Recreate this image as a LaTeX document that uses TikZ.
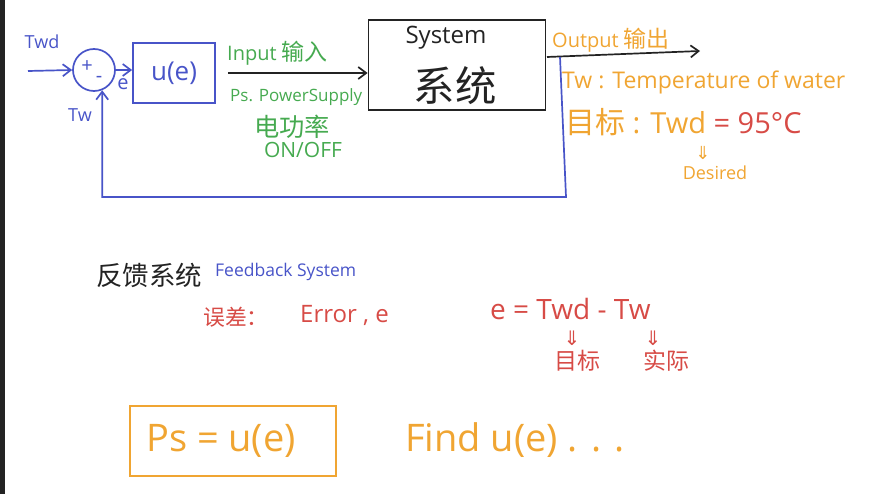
\documentclass[tikz,border=0pt]{standalone}
\usepackage{fontspec}
\setmainfont{Open Sans}
\newfontfamily\cjk[Scale=1.15]{Noto Sans CJK SC}
\newfontfamily\symf{DejaVu Sans}
\usetikzlibrary{positioning,arrows.meta}

\definecolor{inkblue}{RGB}{72,84,200}
\definecolor{inkgreen}{RGB}{70,170,80}
\definecolor{inkorange}{RGB}{240,165,50}
\definecolor{inkred}{RGB}{215,75,70}
\definecolor{inkblack}{RGB}{35,35,35}
\newcommand{\fsz}[1]{\fontsize{#1pt}{#1pt}\selectfont}

\begin{document}
\begin{tikzpicture}[x=1pt, y=-1pt,
  box/.style={draw, line width=1.7pt, inner sep=0pt},
  arr/.style={-{Straight Barb[length=8pt, width=12pt]}, line width=1.7pt},
  txt/.style={inner sep=0pt, anchor=west},
  mid/.style={inner sep=0pt}]
\useasboundingbox (0,0) rectangle (872,494);
\fill[inkblack] (0,0) rectangle (5,494);

% loop
\node[mid, text=inkblue, font=\fsz{18}] (twd) at (42,42) {Twd};
\coordinate (in) at (28,71);
\node[box, draw=inkblue, circle, minimum size=42pt] (sum) at (94,70) {};
\node[mid, text=inkblue, font=\fsz{20}] (plus) at (87,67) {+};
\node[mid, text=inkblue, font=\fsz{20}] (minus) at (99,79) {-};
\node[box, draw=inkblue, minimum width=82pt, minimum height=60pt, text=inkblue, font=\fsz{26}] (ctrl) at (174,73) {u(e)};
\node[mid, text=inkblue, font=\fsz{20}] (e) at (123,84) {e};
\node[mid, text=inkblue, font=\fsz{18}] (tw) at (80,115) {Tw};
\node[box, draw=inkblack, minimum width=177pt, minimum height=90pt] (sys) at (457,65) {};
\node[mid, text=inkblack, font=\fsz{24}] (sysen) at (446,38) {System};
\node[mid, text=inkblack, font=\cjk\fsz{36}] (syszh) at (455,86) {系统};
\coordinate (tap) at (547,57);
\coordinate (out) at (700,51);
\coordinate (fb) at (560,57);
\coordinate (fbcorner) at (566,197);
\draw[arr, inkblue] (in) -- (sum.west);
\draw[arr, inkblue] (sum.east) -- (ctrl.west |- sum.east);
\draw[arr, inkblack, shorten <=12pt] (ctrl.east) -- (sys.west |- ctrl.east);
\draw[arr, inkblack] (tap) -- (out);
\draw[arr, inkblue] (fb) -- (fbcorner) -| (sum.-68);

% input / output notes
\node[txt, text=inkgreen, font=\fsz{20}] (input) at (227,53) {Input {\cjk 输入}};
\node[txt, text=inkgreen, font=\fsz{17}] (ps) at (230,97) {Ps. PowerSupply};
\node[mid, text=inkgreen, font=\cjk\fsz{22}] (power) at (292,127) {电功率};
\node[mid, text=inkgreen, font=\fsz{21}] (onoff) at (303,150) {ON/OFF};
\node[txt, text=inkorange, font=\fsz{20}] (output) at (552,40) {Output {\cjk 输出}};
\node[txt, text=inkorange, font=\fsz{23}] (twdef) at (562,82) {Tw : Temperature of water};
\node[txt, text=inkorange, font=\fsz{29}] (goal) at (565,122) {{\cjk\fsz{26}目标} : Twd {\color{inkred}= 95°C}};
\node[mid, text=inkorange, font=\symf\fsz{18}] (down1) at (703,153) {⇓};
\node[mid, text=inkorange, font=\fsz{18}] (desired) at (715,173) {Desired};

% feedback / error
\node[txt, text=inkblack, font=\cjk\fsz{23}] (fbzh) at (96,275) {反馈系统};
\node[txt, text=inkblue, font=\fsz{17.5}] (fben) at (215,272) {Feedback System};
\node[txt, text=inkred, font=\cjk\fsz{19}] (errzh) at (203,317) {误差：};
\node[txt, text=inkred, font=\fsz{24}] (erren) at (300,315) {Error , e};
\node[txt, text=inkred, font=\fsz{28}] (eq) at (490,309) {e = Twd - Tw};
\node[mid, text=inkred, font=\symf\fsz{20}] (down2) at (572,338) {⇓};
\node[mid, text=inkred, font=\cjk\fsz{20}] (target) at (577,361) {目标};
\node[mid, text=inkred, font=\symf\fsz{20}] (down3) at (653,338) {⇓};
\node[mid, text=inkred, font=\cjk\fsz{20}] (actual) at (666,361) {实际};

% u(e)
\node[box, draw=inkorange, minimum width=206pt, minimum height=70pt, text=inkorange, font=\fsz{38}] (ans) at (233,441) {Ps = u(e)\hspace*{24pt}};
\node[txt, text=inkorange, font=\fsz{38}] (find) at (405,440) {Find u(e) . . .};
\end{tikzpicture}
\end{document}
